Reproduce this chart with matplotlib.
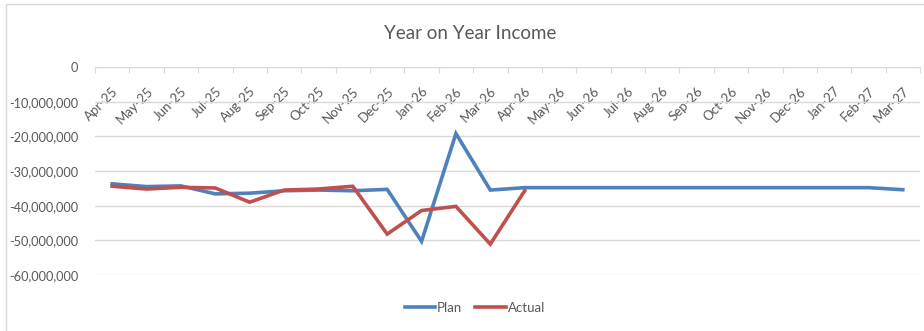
import matplotlib.pyplot as plt
from matplotlib.patches import Rectangle
from matplotlib.ticker import FuncFormatter

months = ["Apr-25", "May-25", "Jun-25", "Jul-25", "Aug-25", "Sep-25", "Oct-25", "Nov-25",
          "Dec-25", "Jan-26", "Feb-26", "Mar-26", "Apr-26", "May-26", "Jun-26", "Jul-26",
          "Aug-26", "Sep-26", "Oct-26", "Nov-26", "Dec-26", "Jan-27", "Feb-27", "Mar-27"]

plan = [-33.7e6, -34.5e6, -34.3e6, -36.6e6, -36.4e6, -35.7e6, -35.5e6, -35.7e6,
        -35.3e6, -50.3e6, -19.2e6, -35.5e6, -34.8e6, -34.8e6, -34.8e6, -34.8e6,
        -34.8e6, -34.8e6, -34.8e6, -34.8e6, -34.8e6, -34.8e6, -34.8e6, -35.4e6]

# actuals only recorded up to Apr-26
actual = [-34.4e6, -35.2e6, -34.7e6, -34.9e6, -39.0e6, -35.5e6, -35.2e6, -34.4e6,
          -48.2e6, -41.4e6, -40.2e6, -51.1e6, -35.7e6]

yticks = [0, -10e6, -20e6, -30e6, -40e6, -50e6, -60e6]

plt.rcParams['font.family'] = ['Lato', 'DejaVu Sans']
grey = "#595959"
grid = "#d9d9d9"

fig = plt.figure(figsize=(9.24, 3.31), dpi=100)
ax = fig.add_axes([95 / 924, 1 - 275 / 331, 825 / 924, 208 / 331])

x = list(range(len(months)))
ax.plot(x, plan, color="#4f81bd", lw=2.6, label="Plan", solid_joinstyle="miter")
ax.plot(x[:len(actual)], actual, color="#c0504d", lw=2.6, label="Actual", solid_joinstyle="miter")

ax.set_xlim(-0.5, len(months) - 0.5)
ax.set_ylim(-60e6, 0)
ax.set_yticks(yticks)
ax.yaxis.set_major_formatter(FuncFormatter(lambda v, p: f"{v:,.0f}"))
ax.tick_params(axis="y", length=0, pad=12, labelsize=9.2, labelcolor=grey)
ax.grid(axis="y", color=grid, lw=1)
ax.set_axisbelow(True)

# category axis sits on the zero line, labels hang below it
for s in ["top", "left", "right"]:
    ax.spines[s].set_visible(False)
ax.spines["bottom"].set_position(("data", 0))
ax.spines["bottom"].set_color(grid)
ax.set_xticks([i - 0.5 for i in range(len(months) + 1)])
ax.set_xticklabels([])
ax.set_xticks(x, minor=True)
ax.set_xticklabels(months, minor=True, rotation=45, ha="right", va="top",
                   rotation_mode="anchor", fontsize=9.5, color=grey)
ax.tick_params(axis="x", which="major", length=4, color=grid, direction="out")
ax.tick_params(axis="x", which="minor", length=0, pad=13)

fig.text(0.509, 0.90, "Year on Year Income", ha="center", va="center",
         fontsize=13.5, color=grey)

fig.legend(loc="center", bbox_to_anchor=(0.514, 0.07), ncol=2, frameon=False,
           fontsize=9.5, labelcolor=grey, handlelength=2.3, handletextpad=0.15,
           columnspacing=1.0)

fig.patches.append(Rectangle((6 / 924, -0.1), 1.2, 1.1 - 4 / 331, transform=fig.transFigure,
                             fill=False, edgecolor=grid, lw=1))

fig.savefig("out.png", dpi=100)
